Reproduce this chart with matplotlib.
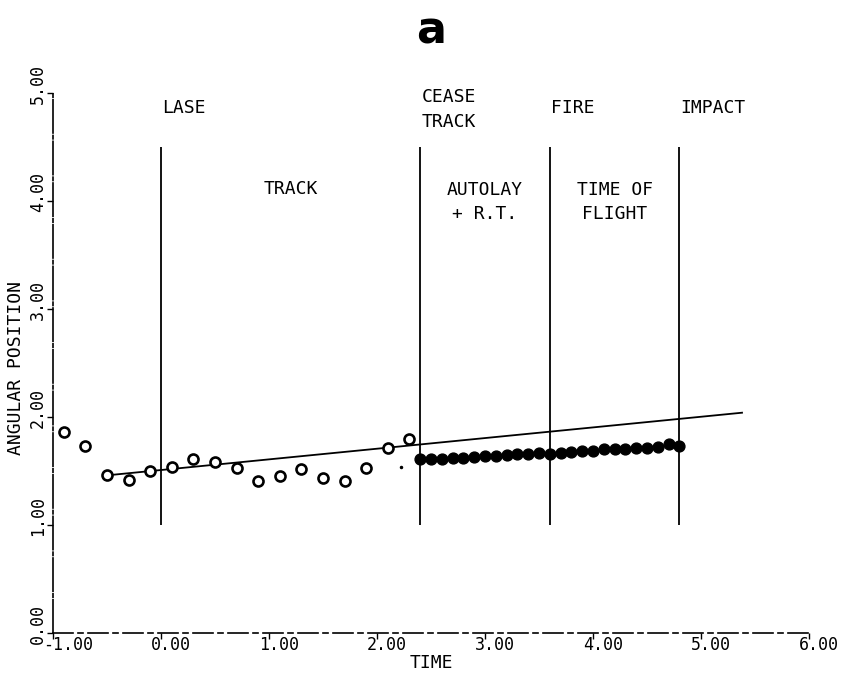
import matplotlib
matplotlib.use('Agg')
import matplotlib.pyplot as plt

plt.rcParams['font.family'] = ['DejaVu Sans Mono']
plt.rcParams['axes.unicode_minus'] = False

# ── tracked target: angular position samples during the track phase ──
track_time = [-0.9, -0.7, -0.5, -0.3, -0.1, 0.1, 0.3, 0.5, 0.7, 0.9,
              1.1, 1.3, 1.5, 1.7, 1.9, 2.1, 2.3]
track_pos = [1.86, 1.73, 1.46, 1.42, 1.50, 1.54, 1.61, 1.58, 1.53, 1.41,
             1.45, 1.52, 1.44, 1.41, 1.53, 1.71, 1.80]

# ── predicted position from cease-track to impact ──
pred_time = [2.4, 2.5, 2.6, 2.7, 2.8, 2.9, 3.0, 3.1, 3.2, 3.3, 3.4, 3.5, 3.6,
             3.7, 3.8, 3.9, 4.0, 4.1, 4.2, 4.3, 4.4, 4.5, 4.6, 4.7, 4.8]
pred_pos = [1.61, 1.61, 1.61, 1.62, 1.62, 1.63, 1.64, 1.64, 1.65, 1.66, 1.66,
            1.67, 1.66, 1.67, 1.68, 1.69, 1.69, 1.70, 1.70, 1.70, 1.71, 1.71,
            1.72, 1.75, 1.73]

# ── stray point just before cease-track ──
stray_time = [2.22]
stray_pos = [1.54]

# ── true target path ──
true_time = [-0.5, 5.38]
true_pos = [1.46, 2.04]

# ── event markers ──
event_time = [0.0, 2.4, 3.6, 4.8]
event_names = ['LASE', 'CEASE\nTRACK', 'FIRE', 'IMPACT']
event_y = [4.86, 4.85, 4.86, 4.86]

# ── phase labels between events ──
phase_time = [1.2, 3.0, 4.2]
phase_names = ['TRACK', 'AUTOLAY\n+ R.T.', 'TIME OF\nFLIGHT']
phase_y = [4.11, 3.99, 3.99]

x_ticks = [-1, 0, 1, 2, 3, 4, 5, 6]
y_ticks = [0, 1, 2, 3, 4, 5]

fig = plt.figure(figsize=(8.44, 6.82), dpi=100)
ax = fig.add_axes([0.0628, 0.0718, 0.8957, 0.7918])

# phase boundaries
ax.vlines(event_time, 1.0, 4.5, colors='black', linewidth=1.3)

ax.plot(true_time, true_pos, color='black', linewidth=1.3, zorder=2)
ax.plot(track_time, track_pos, 'o', markersize=7.2, markerfacecolor='white',
        markeredgecolor='black', markeredgewidth=1.9, zorder=3)
ax.plot(pred_time, pred_pos, 'o', markersize=7.8, color='black', zorder=3)
ax.plot(stray_time, stray_pos, '.', markersize=3, color='black')

for t, name, y in zip(event_time, event_names, event_y):
    ax.text(t + 0.01, y, name, ha='left', va='center', fontsize=13,
            linespacing=1.5)
for t, name, y in zip(phase_time, phase_names, phase_y):
    ax.text(t, y, name, ha='center', va='center', fontsize=13,
            linespacing=1.45)

ax.set_xlim(-1, 6)
ax.set_ylim(0, 5)
ax.set_xticks(x_ticks)
ax.set_yticks(y_ticks)
ax.set_xticklabels([])
ax.set_yticklabels([])
ax.tick_params(axis='both', direction='out', length=4, width=1.0)

# tick labels sit off-centre from their ticks, as the plotter drew them
for v in x_ticks:
    ax.annotate(f'{v:.2f}', xy=(v, 0), xycoords=('data', 'axes fraction'),
                xytext=(-10, -12), textcoords='offset pixels',
                ha='left', va='center', fontsize=12, annotation_clip=False)
for v in y_ticks:
    ax.annotate(f'{v:.2f}', xy=(0, v), xycoords=('axes fraction', 'data'),
                xytext=(-15, 9), textcoords='offset pixels', rotation=90,
                ha='center', va='center', fontsize=12, annotation_clip=False)

ax.set_xlabel('TIME', fontsize=13)
ax.set_ylabel('ANGULAR POSITION', fontsize=13)
ax.xaxis.set_label_coords(0.5, -0.056)
ax.yaxis.set_label_coords(-0.049, 0.49)
ax.xaxis.label.set_va('center')
ax.yaxis.label.set_va('center')

# plotter-style broken axis lines
for side in ['top', 'right']:
    ax.spines[side].set_visible(False)
ax.spines['left'].set_linestyle((0, (20, 1.5, 2, 1.5)))
ax.spines['bottom'].set_linestyle((0, (12, 3, 3, 3)))
for side in ['left', 'bottom']:
    ax.spines[side].set_linewidth(1.2)

fig.text(0.511, 0.955, 'a', ha='center', va='center', fontsize=32,
         fontweight='bold', family='DejaVu Sans')

fig.savefig('out.png', dpi=100)
